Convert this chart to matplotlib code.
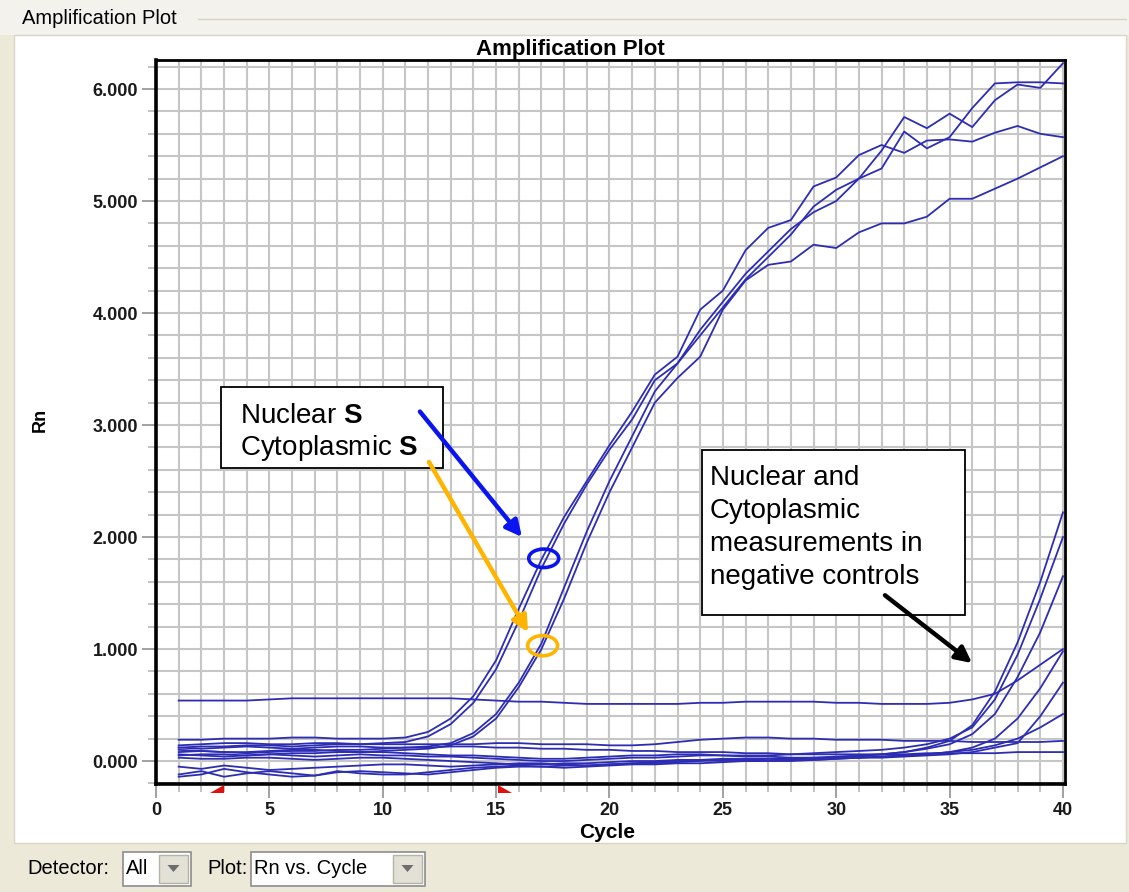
import matplotlib
matplotlib.use("Agg")
import matplotlib.pyplot as plt
import numpy as np
from matplotlib.patches import Rectangle, Ellipse, Polygon
from matplotlib.transforms import blended_transform_factory

plt.rcParams["font.family"] = ["Liberation Sans", "DejaVu Sans"]
plt.rcParams["mathtext.fontset"] = "custom"
plt.rcParams["mathtext.rm"] = "Liberation Sans"
plt.rcParams["mathtext.bf"] = "Liberation Sans:bold"

# ----------------------------------------------------------------------
# Data (Rn per cycle)
# ----------------------------------------------------------------------
cycles = list(range(1, 41))

nuc_1 = [0.19, 0.19, 0.20, 0.20, 0.20, 0.21, 0.21, 0.20, 0.20, 0.20,
         0.21, 0.26, 0.38, 0.58, 0.90, 1.36, 1.80, 2.18, 2.50, 2.82,
         3.12, 3.45, 3.61, 4.03, 4.20, 4.56, 4.76, 4.83, 5.13, 5.21,
         5.41, 5.50, 5.43, 5.54, 5.55, 5.53, 5.61, 5.67, 5.60, 5.57]
nuc_2 = [0.12, 0.13, 0.13, 0.14, 0.14, 0.13, 0.14, 0.15, 0.15, 0.16,
         0.17, 0.22, 0.33, 0.52, 0.82, 1.25, 1.72, 2.12, 2.47, 2.78,
         3.05, 3.40, 3.55, 3.85, 4.10, 4.35, 4.55, 4.75, 4.90, 5.00,
         5.20, 5.29, 5.62, 5.47, 5.57, 5.83, 6.05, 6.06, 6.06, 6.05]
cyt_1 = [0.08, 0.09, 0.08, 0.07, 0.08, 0.09, 0.09, 0.10, 0.10, 0.11,
         0.12, 0.13, 0.16, 0.25, 0.42, 0.70, 1.05, 1.55, 2.05, 2.50,
         2.90, 3.30, 3.55, 3.80, 4.05, 4.30, 4.50, 4.70, 4.95, 5.10,
         5.20, 5.45, 5.75, 5.65, 5.78, 5.66, 5.90, 6.04, 6.01, 6.23]
cyt_2 = [0.05, 0.06, 0.06, 0.05, 0.06, 0.07, 0.07, 0.08, 0.08, 0.09,
         0.10, 0.11, 0.14, 0.22, 0.38, 0.66, 1.00, 1.45, 1.95, 2.40,
         2.80, 3.20, 3.42, 3.61, 4.03, 4.29, 4.43, 4.46, 4.61, 4.58,
         4.72, 4.80, 4.80, 4.86, 5.02, 5.02, 5.11, 5.20, 5.30, 5.40]

flat_1 = [0.54, 0.54, 0.54, 0.54, 0.55, 0.56, 0.56, 0.56, 0.56, 0.56,
          0.56, 0.56, 0.56, 0.55, 0.54, 0.53, 0.53, 0.52, 0.51, 0.51,
          0.51, 0.51, 0.51, 0.52, 0.52, 0.53, 0.53, 0.53, 0.53, 0.52,
          0.52, 0.51, 0.51, 0.51, 0.52, 0.55, 0.60, 0.72, 0.86, 1.00]
flat_2 = [0.14, 0.15, 0.16, 0.16, 0.15, 0.15, 0.16, 0.16, 0.15, 0.15,
          0.15, 0.15, 0.15, 0.15, 0.16, 0.16, 0.15, 0.15, 0.15, 0.14,
          0.14, 0.15, 0.17, 0.19, 0.20, 0.21, 0.21, 0.20, 0.20, 0.19,
          0.19, 0.19, 0.18, 0.18, 0.18, 0.17, 0.17, 0.17, 0.17, 0.18]
flat_3 = [0.12, 0.11, 0.12, 0.13, 0.12, 0.11, 0.12, 0.13, 0.13, 0.12,
          0.12, 0.12, 0.13, 0.13, 0.12, 0.12, 0.11, 0.11, 0.10, 0.10,
          0.09, 0.09, 0.08, 0.08, 0.08, 0.07, 0.07, 0.06, 0.06, 0.06,
          0.06, 0.06, 0.06, 0.07, 0.07, 0.07, 0.07, 0.08, 0.08, 0.08]

neg_1 = [0.06, 0.05, 0.04, 0.05, 0.06, 0.05, 0.04, 0.05, 0.06, 0.05,
         0.05, 0.04, 0.04, 0.03, 0.02, 0.01, 0.00, 0.00, 0.01, 0.02,
         0.03, 0.03, 0.04, 0.05, 0.05, 0.04, 0.04, 0.03, 0.03, 0.04,
         0.05, 0.06, 0.08, 0.12, 0.18, 0.32, 0.62, 1.06, 1.60, 2.22]
neg_2 = [0.10, 0.09, 0.08, 0.08, 0.09, 0.10, 0.10, 0.09, 0.08, 0.08,
         0.07, 0.06, 0.05, 0.05, 0.04, 0.03, 0.02, 0.02, 0.03, 0.04,
         0.05, 0.05, 0.06, 0.06, 0.05, 0.05, 0.05, 0.06, 0.07, 0.08,
         0.09, 0.10, 0.12, 0.15, 0.20, 0.30, 0.55, 0.95, 1.45, 2.00]
neg_3 = [0.03, 0.02, 0.02, 0.03, 0.03, 0.02, 0.01, 0.02, 0.03, 0.03,
         0.02, 0.01, 0.00, -0.01, -0.02, -0.03, -0.03, -0.02, -0.02, -0.01,
         0.00, 0.00, 0.01, 0.01, 0.00, 0.00, 0.00, 0.01, 0.02, 0.03,
         0.04, 0.06, 0.08, 0.11, 0.15, 0.24, 0.42, 0.75, 1.15, 1.65]
neg_4 = [-0.05, -0.07, -0.04, -0.06, -0.08, -0.07, -0.06, -0.05, -0.04, -0.03,
         -0.03, -0.04, -0.05, -0.04, -0.03, -0.02, -0.02, -0.03, -0.04, -0.03,
         -0.02, -0.01, 0.00, 0.01, 0.02, 0.02, 0.02, 0.01, 0.01, 0.02,
         0.03, 0.04, 0.05, 0.06, 0.08, 0.12, 0.20, 0.38, 0.65, 0.98]
neg_5 = [-0.12, -0.09, -0.14, -0.11, -0.09, -0.11, -0.13, -0.10, -0.09, -0.10,
         -0.11, -0.12, -0.10, -0.08, -0.06, -0.05, -0.05, -0.04, -0.04, -0.03,
         -0.02, -0.02, -0.01, 0.00, 0.01, 0.01, 0.02, 0.02, 0.03, 0.03,
         0.03, 0.03, 0.04, 0.05, 0.06, 0.08, 0.12, 0.16, 0.40, 0.70]
neg_6 = [-0.14, -0.12, -0.07, -0.10, -0.12, -0.14, -0.13, -0.09, -0.11, -0.12,
         -0.12, -0.10, -0.08, -0.06, -0.05, -0.04, -0.05, -0.06, -0.05, -0.04,
         -0.03, -0.03, -0.02, -0.02, -0.01, 0.00, 0.00, 0.00, 0.01, 0.02,
         0.03, 0.04, 0.05, 0.06, 0.08, 0.10, 0.14, 0.20, 0.30, 0.42]

curves = [flat_1, flat_2, flat_3, neg_1, neg_2, neg_3, neg_4, neg_5, neg_6,
          nuc_1, nuc_2, cyt_1, cyt_2]

baseline_range = [3, 15]          # red baseline start / end markers
nuc_mark = (17.1, 1.81)           # circled Ct point, nuclear
cyt_mark = (17.05, 1.03)          # circled Ct point, cytoplasmic

y_ticks = [0, 1, 2, 3, 4, 5, 6]
y_tick_labels = ["0.000", "1.000", "2.000", "3.000", "4.000", "5.000", "6.000"]
x_ticks = [0, 5, 10, 15, 20, 25, 30, 35, 40]

neg_note_lines = ["Nuclear and", "Cytoplasmic", "measurements in", "negative controls"]

# ----------------------------------------------------------------------
# Figure / window chrome
# ----------------------------------------------------------------------
W, H = 1129, 892
BEIGE = "#ece9d8"
fig = plt.figure(figsize=(W / 100, H / 100), dpi=100, facecolor=BEIGE)


def fbox(x0, y0, x1, y1, zorder=-10, **kw):
    """Rectangle given in screenshot pixel coords (top-left origin)."""
    r = Rectangle((x0 / W, 1 - y1 / H), (x1 - x0) / W, (y1 - y0) / H,
                  transform=fig.transFigure, zorder=zorder, **kw)
    fig.patches.append(r)
    return r


def ftext(x, y, s, **kw):
    return fig.text(x / W, 1 - y / H, s, **kw)


fbox(0, 0, W, 35, fc="#f3f2ec", ec="none")
fig.add_artist(plt.Line2D([198 / W, 1 - 3 / W], [1 - 19 / H, 1 - 19 / H],
                          transform=fig.transFigure, color="#d6d3c2", lw=1,
                          zorder=-5))
ftext(22, 19, "Amplification Plot", fontsize=14.5, va="center", ha="left")
fbox(14, 35, 1126, 843, fc="white", ec="#d8d6c8", lw=1)

# bottom toolbar
ftext(27, 868, "Detector:", fontsize=14.5, va="center", ha="left")
ftext(207, 868, "Plot:", fontsize=14.5, va="center", ha="left")
for (x0, x1, label) in [(123, 191, "All"), (251, 425, "Rn vs. Cycle")]:
    fbox(x0, 852, x1, 886, fc="white", ec="#8c8c8c", lw=1.2, zorder=-9)
    fbox(x1 - 32, 855, x1 - 3, 883, fc="#e3e1d6", ec="#b5b3a6", lw=1, zorder=-8)
    cx, cy = x1 - 17.5, 868
    tri = Polygon([((cx - 6) / W, 1 - (cy - 3) / H), ((cx + 6) / W, 1 - (cy - 3) / H),
                   (cx / W, 1 - (cy + 4) / H)], closed=True,
                  transform=fig.transFigure, fc="#6e6e6e", ec="none", zorder=-7)
    fig.patches.append(tri)
    ftext(x0 + 3, 868, label, fontsize=14.5, va="center", ha="left")

# ----------------------------------------------------------------------
# Plot area
# ----------------------------------------------------------------------
ax = fig.add_axes([156 / W, 1 - 784 / H, (1065 - 156) / W, (784 - 60) / H])
ax.set_facecolor("white")
ax.set_xlim(0, 40.09)
ax.set_ylim(-0.205, 6.259)

ax.set_xticks(x_ticks)
ax.set_xticks(range(0, 41), minor=True)
ax.set_yticks(y_ticks)
ax.set_yticklabels(y_tick_labels)
ax.set_yticks(np.arange(-0.2, 6.25, 0.2), minor=True)
ax.set_axisbelow(True)
ax.grid(which="both", color="#c6c6c6", lw=1.5)

ax.tick_params(which="major", length=10, width=1.3, color="#9a9a9a",
               labelsize=13, pad=3)
ax.tick_params(which="minor", length=6, width=1.3, color="#bdbdbd")
for lab in ax.get_xticklabels() + ax.get_yticklabels():
    lab.set_fontweight("bold")
    lab.set_color("#1a1a1a")

for side, lw in [("left", 2.6), ("bottom", 2.6), ("top", 2.0), ("right", 2.0)]:
    ax.spines[side].set_linewidth(lw)
    ax.spines[side].set_color("black")

for ys in curves:
    ax.plot(cycles, ys, color="#2d2db4", lw=1.3, zorder=3)

# baseline start/end markers below the axis
trans = blended_transform_factory(ax.transData, ax.transAxes)
b0, b1 = baseline_range
for pts in ([(b0 - 0.6, -0.012), (b0 + 0.02, -0.012), (b0 + 0.02, -0.001)],
            [(b1 + 0.08, -0.001), (b1 + 0.08, -0.012), (b1 + 0.7, -0.012)]):
    ax.add_patch(Polygon(pts, closed=True, transform=trans, fc="#e01010",
                         ec="none", clip_on=False, zorder=6))

# titles / labels
ftext(570, 49, "Amplification Plot", fontsize=16, fontweight="bold",
      ha="center", va="center")
ftext(40, 420, "Rn", fontsize=13, fontweight="bold", rotation=90,
      ha="center", va="center")
ftext(607, 832, "Cycle", fontsize=15, fontweight="bold", ha="center", va="center")

# ----------------------------------------------------------------------
# Annotations
# ----------------------------------------------------------------------
ax.add_patch(Rectangle((2.87, 2.62), 12.66 - 2.87, 3.34 - 2.62, fc="white",
                       ec="black", lw=1.3, zorder=5))
ax.text(3.70, 3.02, r"Nuclear $\mathbf{S}$", fontsize=20, va="baseline",
        ha="left", zorder=6)
ax.text(3.70, 2.73, r"Cytoplasmic $\mathbf{S}$", fontsize=20, va="baseline",
        ha="left", zorder=6)

ax.add_patch(Rectangle((24.08, 1.30), 35.68 - 24.08, 2.78 - 1.30, fc="white",
                       ec="black", lw=1.3, zorder=5))
for i, line in enumerate(neg_note_lines):
    ax.text(24.43, 2.464 - i * 0.295, line, fontsize=20, va="baseline",
            ha="left", zorder=6)

arrow_kw = dict(arrowstyle="-|>", lw=3.2, mutation_scale=24,
                shrinkA=0, shrinkB=0)
ax.annotate("", xy=(16.14, 2.00), xytext=(11.64, 3.12), zorder=7,
            arrowprops=dict(color="#0a14f0", **arrow_kw))
ax.annotate("", xy=(16.41, 1.15), xytext=(12.04, 2.67), zorder=7,
            arrowprops=dict(color="#ffb400", **arrow_kw))
ax.annotate("", xy=(35.99, 0.875), xytext=(32.15, 1.48), zorder=7,
            arrowprops=dict(color="black", **arrow_kw))

ax.add_patch(Ellipse(nuc_mark, width=1.32, height=0.165, fill=False,
                     ec="#0a14f0", lw=2.6, zorder=7))
ax.add_patch(Ellipse(cyt_mark, width=1.32, height=0.18, fill=False,
                     ec="#ffb400", lw=2.6, zorder=7))

fig.savefig("out.png", dpi=100, facecolor=BEIGE)
